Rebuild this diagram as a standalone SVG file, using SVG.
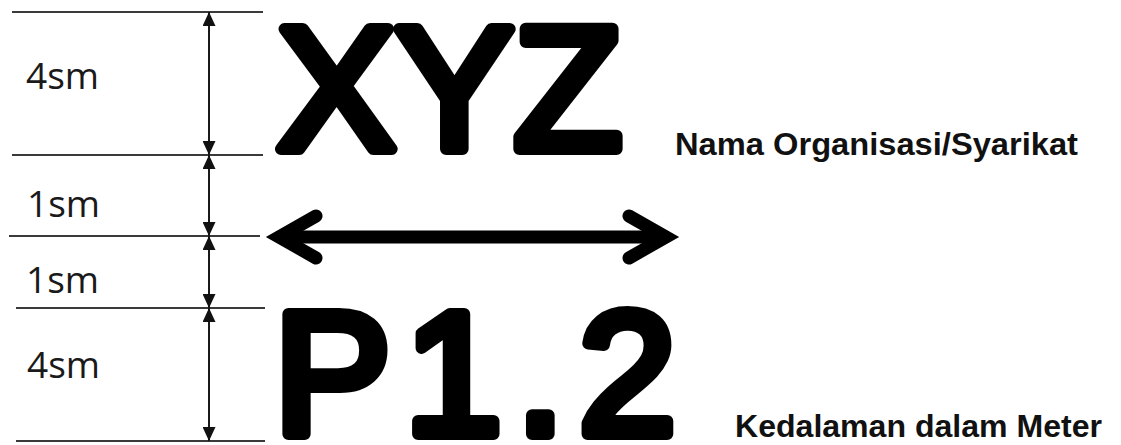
<svg xmlns="http://www.w3.org/2000/svg" width="1121" height="445" viewBox="0 0 1121 445">
  <defs>
    <marker id="tri" markerUnits="userSpaceOnUse" markerWidth="14" markerHeight="13" refX="14" refY="6.5" orient="auto-start-reverse" viewBox="0 0 14 13">
      <path d="M0,0 L14,6.5 L0,13 z" fill="#111"/>
    </marker>
    <style>
      .guide { stroke: #3a3a3a; stroke-width: 2; fill: none; }
      .dim { stroke: #1a1a1a; stroke-width: 2; fill: none; marker-start: url(#tri); marker-end: url(#tri); }
      .lbl { font-family: "Open Sans", "Noto Sans", sans-serif; font-size: 37px; fill: #1a1a1a; }
      .big { font-family: "Liberation Sans", Arial, sans-serif; font-size: 175px; fill: #000; stroke: #000; stroke-width: 12; stroke-linejoin: round; stroke-linecap: round; }
      .cap { font-family: "Liberation Sans", Arial, sans-serif; font-weight: bold; font-size: 31px; fill: #111; }
      .arr { stroke: #000; stroke-width: 13; fill: none; stroke-linecap: round; stroke-linejoin: miter; }
    </style>
  </defs>
  <rect width="1121" height="445" fill="#fff"/>

  <g id="guides">
    <line class="guide" x1="12" y1="12" x2="263" y2="12"/>
    <line class="guide" x1="12" y1="155" x2="263" y2="155"/>
    <line class="guide" x1="9" y1="236" x2="260" y2="236"/>
    <line class="guide" x1="16" y1="308" x2="265" y2="308"/>
    <line class="guide" x1="16" y1="441" x2="265" y2="441"/>
  </g>

  <g id="connectors">
    <line class="dim" x1="209" y1="12" x2="209" y2="155"/>
    <line class="dim" x1="209" y1="155" x2="209" y2="236"/>
    <line class="dim" x1="209" y1="236" x2="209" y2="308"/>
    <line class="dim" x1="209" y1="308" x2="209" y2="441"/>
  </g>

  <g id="labels">
    <text class="lbl" x="26" y="89">4sm</text>
    <text class="lbl" x="27" y="217">1sm</text>
    <text class="lbl" x="26" y="293">1sm</text>
    <text class="lbl" x="27" y="378">4sm</text>
  </g>

  <g id="node-xyz">
    <text class="big" x="277" y="149" textLength="345" lengthAdjust="spacingAndGlyphs">XYZ</text>
  </g>
  <g id="node-nama">
    <text class="cap" x="675" y="155" textLength="403" lengthAdjust="spacingAndGlyphs">Nama Organisasi/Syarikat</text>
  </g>

  <g id="node-width-arrow">
    <line class="arr" x1="279" y1="237" x2="666" y2="237" style="stroke-linecap:butt"/>
    <polyline class="arr" points="316,216 279,237 316,258"/>
    <polyline class="arr" points="629,216 666,237 629,258"/>
  </g>

  <g id="node-p12">
    <text class="big" x="274" y="434" textLength="402" lengthAdjust="spacing">P1.2</text>
  </g>
  <g id="node-kedalaman">
    <text class="cap" x="735" y="437" textLength="367" lengthAdjust="spacingAndGlyphs">Kedalaman dalam Meter</text>
  </g>
</svg>
